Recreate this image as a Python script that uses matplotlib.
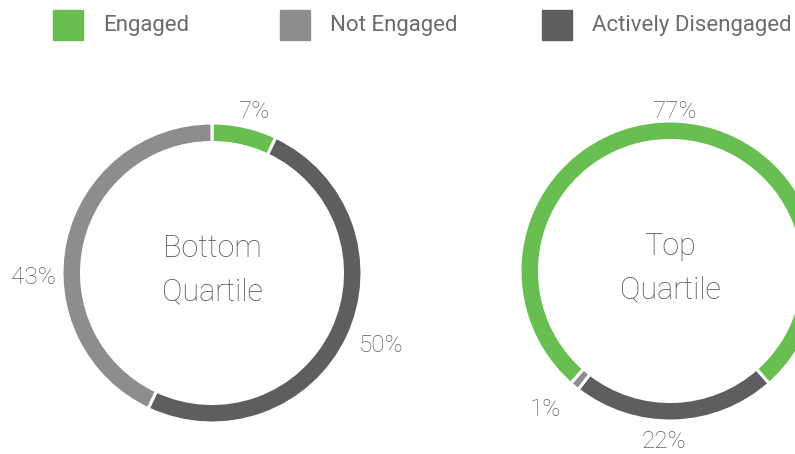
import numpy as np
import matplotlib.pyplot as plt
from matplotlib.patches import Rectangle

# data
categories = ['Engaged', 'Not Engaged', 'Actively Disengaged']
colors = ['#68be50', '#8c8d8c', '#5e5e60']
bottom_vals = [7, 43, 50]   # engaged, not engaged, actively disengaged
top_vals = [77, 1, 22]
titles = ['Bottom\nQuartile', 'Top\nQuartile']

txt_color = '#6c6c6c'
plt.rcParams['font.family'] = ['Roboto', 'DejaVu Sans']

W, H = 795, 454
fig = plt.figure(figsize=(W / 100, H / 100), dpi=100)

R = 150  # outer radius in px
L = 1.03


def donut(cx, cy, vals, title, start, nudges):
    # drawing order clockwise: engaged, actively disengaged, not engaged
    order = [0, 2, 1]
    v = [vals[i] for i in order]
    c = [colors[i] for i in order]
    size = 2 * L * R
    ax = fig.add_axes([(cx - L * R) / W, 1 - (cy + L * R) / H, size / W, size / H])
    ax.pie(v, colors=c, startangle=start, counterclock=False, radius=1,
           wedgeprops=dict(width=0.13, edgecolor='white', linewidth=2.2))
    ax.set_xlim(-L, L)
    ax.set_ylim(-L, L)
    ax.set_aspect('equal')
    ax.axis('off')
    # percentage labels
    tot = sum(v)
    a0 = start
    for val, (nx, ny) in zip(v, nudges):
        mid = a0 - 360 * val / tot / 2
        a0 -= 360 * val / tot
        th = np.deg2rad(mid)
        d = 1.09 + 0.11 * abs(np.cos(th))
        ax.text(d * np.cos(th) + nx / R, d * np.sin(th) - ny / R, f'{val}%',
                ha='center', va='center', fontsize=17.5, color='#5c5c5c',
                clip_on=False, fontweight='light')
    ax.text(0, 0.02, title, ha='center', va='center', fontsize=22, color='#555555',
            linespacing=1.6, fontweight='light')


donut(212, 273, bottom_vals, titles[0], 90, [(5, 2), (8, -3), (-3, 44)])
donut(670, 271, top_vals, titles[1], 90 + 360 * top_vals[0] / 100 / 2,
      [(4, 4), (-11, 7), (-14, 4)])

# legend
sq_x = [53, 280, 542]
for x, cat, col in zip(sq_x, categories, colors):
    fig.patches.append(Rectangle((x / W, 1 - 40 / H), 30 / W, 30 / H,
                                 transform=fig.transFigure, color=col))
    fig.text((x + 50) / W, 1 - 25 / H, cat, ha='left', va='center',
             fontsize=16, color=txt_color)

fig.savefig('out.png', dpi=100)
